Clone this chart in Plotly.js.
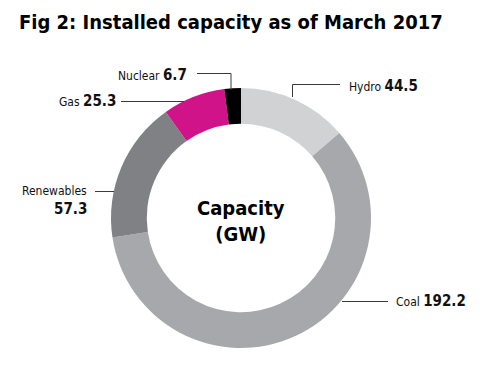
<!DOCTYPE html>
<html><head><meta charset="utf-8">
<script src="https://cdn.plot.ly/plotly-3.0.1.min.js"></script>
<style>html,body{margin:0;padding:0;background:#fff}#chart{width:480px;height:369px}</style>
</head><body><div id="chart"></div>
<script>
const categories = ["Hydro", "Coal", "Renewables", "Gas", "Nuclear"];
const values = [44.5, 192.2, 57.3, 25.3, 6.7];
const colors = ["#d1d2d4", "#a7a8ab", "#808184", "#d1138a", "#000000"];

const FONT = "'DejaVu Sans Condensed', 'Liberation Sans Narrow', sans-serif";
function num(i) {
  return "<b><span style='font-size:15px'>" + values[i].toFixed(1) + "</span></b>";
}
function lab(i) { return categories[i] + " " + num(i); }
const W = 480, H = 369;
const cx = 241, cy = 218, R = 130;

const trace = {
  type: "pie", hole: 0.725, sort: false, direction: "clockwise", rotation: 0,
  labels: categories, values: values,
  marker: {colors: colors, line: {width: 0}},
  textinfo: "none", hoverinfo: "none", showlegend: false,
  domain: {x: [(cx - R) / W, (cx + R) / W], y: [1 - (cy + R) / H, 1 - (cy - R) / H]}
};

const lc = "#3a3a3a";
const A = (x, y, text, xa, extra) => Object.assign({x: x, y: y, xref: "x", yref: "y", xanchor: xa || "left",
  yanchor: "middle", showarrow: false, text: text}, extra || {});
const layout = {
  width: W, height: H, margin: {l: 0, r: 0, t: 0, b: 0},
  paper_bgcolor: "#fff", plot_bgcolor: "#fff",
  xaxis: {range: [0, W], visible: false, fixedrange: true},
  yaxis: {range: [H, 0], visible: false, fixedrange: true},
  font: {family: FONT, color: "#111", size: 12},
  annotations: [
    A(17, 22, "<b>Fig 2: Installed capacity as of March 2017</b>", "left", {font: {size: 20, color: "#000", family: FONT}}),
    A(116, 75, lab(4)),
    A(57, 101, lab(3)),
    A(347, 86, lab(0)),
    A(89, 191, categories[2], "right"),
    A(89, 209, num(2), "right"),
    A(394, 301, lab(1)),
    A(cx, 221, "<b>Capacity<br>(GW)</b>", "center", {font: {size: 20, color: "#000", family: FONT}})
  ],
  shapes: [
    {type: "path", xref: "x", yref: "y", path: "M197,73.5 L231,73.5 L231,90", line: {color: lc, width: 1}},
    {type: "line", xref: "x", yref: "y", x0: 121, x1: 184, y0: 101.5, y1: 101.5, line: {color: lc, width: 1}},
    {type: "path", xref: "x", yref: "y", path: "M340,84.5 L292.5,84.5 L292.5,97", line: {color: lc, width: 1}},
    {type: "line", xref: "x", yref: "y", x0: 95, x1: 114, y0: 191.5, y1: 191.5, line: {color: lc, width: 1}},
    {type: "line", xref: "x", yref: "y", x0: 342, x1: 388, y0: 301.5, y1: 301.5, line: {color: lc, width: 1}}
  ]
};
Plotly.newPlot("chart", [trace], layout, {staticPlot: true, displayModeBar: false});
</script></body></html>
